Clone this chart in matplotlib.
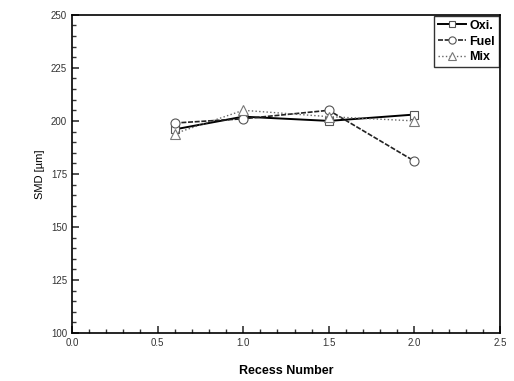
import matplotlib
matplotlib.use('Agg')
import matplotlib.pyplot as plt
from matplotlib.ticker import MultipleLocator

plt.rcParams['font.family'] = ['Liberation Sans', 'DejaVu Sans']

# data
recess = [0.6, 1.0, 1.5, 2.0]
smd_oxi = [196, 202, 200, 203]
smd_fuel = [199, 201, 205, 181]
smd_mix = [194, 205, 202, 200]

fig = plt.figure(figsize=(5.14, 3.81), dpi=100)
ax = fig.add_axes([0.140, 0.126, 0.833, 0.835])

ax.plot(recess, smd_oxi, color='black', lw=1.4, ls='-', marker='s',
        ms=6, mfc='white', mec='#555555', mew=0.8, label='Oxi.')
ax.plot(recess, smd_fuel, color='#222222', lw=1.2, ls=(0, (3, 1)), marker='o',
        ms=6.5, mfc='white', mec='#555555', mew=0.8, label='Fuel')
ax.plot(recess, smd_mix, color='#666666', lw=1.0, ls=':', marker='^',
        ms=6.5, mfc='white', mec='#777777', mew=0.8, label='Mix')

ax.set_xlim(0, 2.5)
ax.set_ylim(100, 250)
ax.xaxis.set_major_locator(MultipleLocator(0.5))
ax.xaxis.set_minor_locator(MultipleLocator(0.1))
ax.yaxis.set_major_locator(MultipleLocator(25))
ax.yaxis.set_minor_locator(MultipleLocator(5))
ax.xaxis.set_major_formatter(plt.FormatStrFormatter('%.1f'))
ax.tick_params(which='both', direction='in', labelsize=7, colors='#333333')
ax.tick_params(which='major', length=5, width=1.2)
ax.tick_params(which='minor', length=3, width=1.0)
for s in ax.spines.values():
    s.set_linewidth(1.2)

ax.set_xlabel('Recess Number', fontsize=9, fontweight='bold', labelpad=12)
ax.set_ylabel('SMD [µm]', fontsize=8)

leg = ax.legend(loc='upper right', fontsize=9, frameon=True, fancybox=False,
                borderaxespad=0.1, handlelength=2.2, handletextpad=0.3,
                borderpad=0.3, labelspacing=0.3, markerscale=0.8)
leg.get_frame().set_edgecolor('black')
leg.get_frame().set_linewidth(1.0)
for t in leg.get_texts():
    t.set_fontweight('bold')

plt.savefig('out.png', dpi=100)
plt.close(fig)
